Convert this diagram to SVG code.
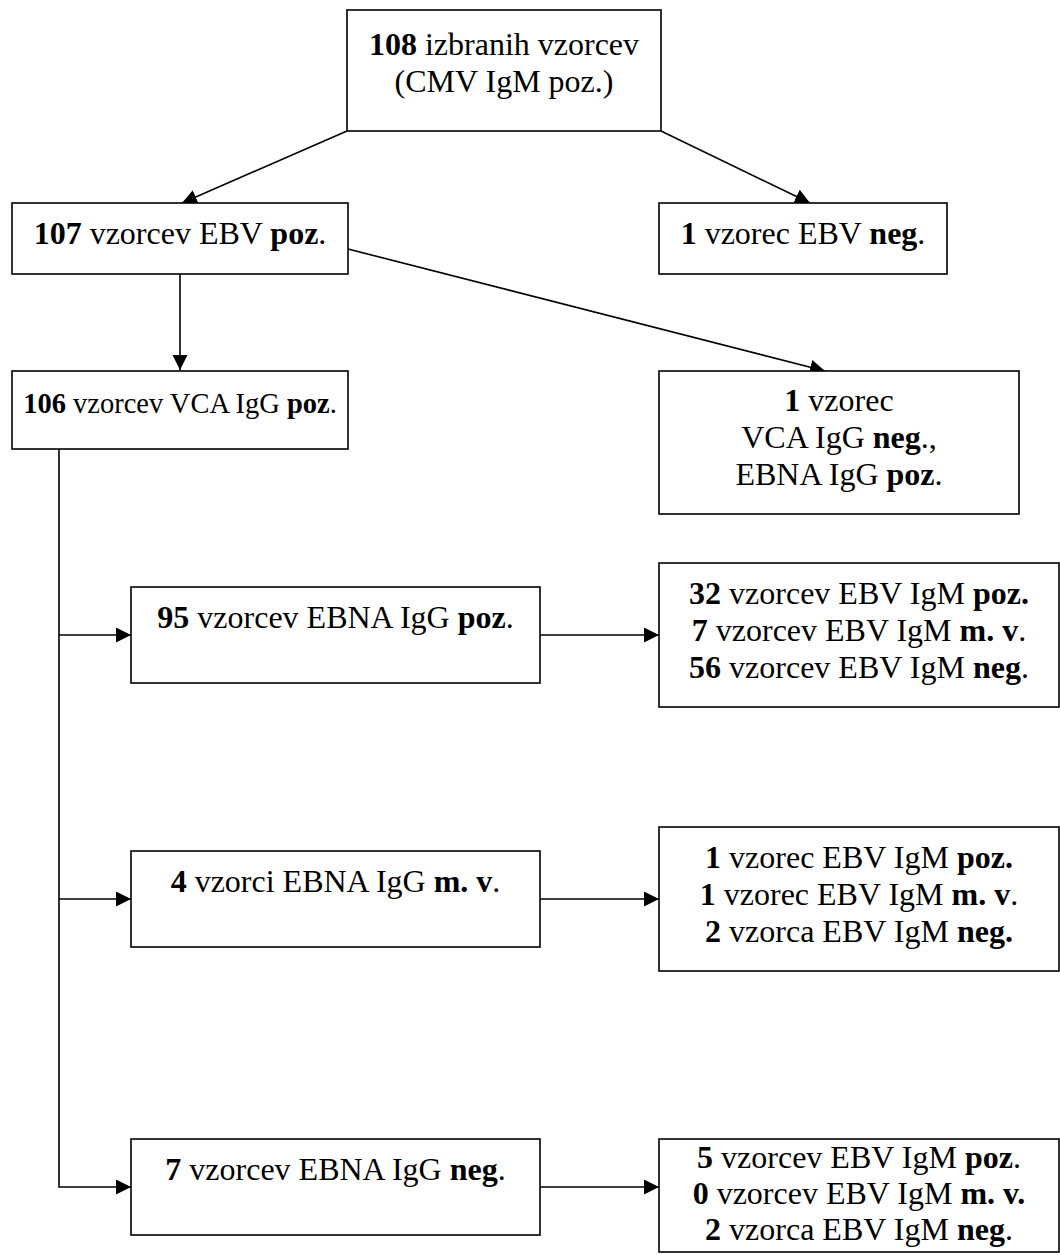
<svg xmlns="http://www.w3.org/2000/svg" width="1060" height="1255" viewBox="0 0 1060 1255">
  <style>
    .box { fill: #ffffff; stroke: #000000; stroke-width: 1.6; }
    .lbl { font-family: "Liberation Serif", "Times New Roman", serif; font-size: 32px; fill: #000000; text-anchor: middle; }
    .sm { font-size: 28.5px; }
    .b { font-weight: bold; }
    .conn { fill: none; stroke: #000000; stroke-width: 1.6; }
  </style>
  <defs>
    <marker id="arrow" markerUnits="userSpaceOnUse" markerWidth="16" markerHeight="16" refX="15" refY="7.5" orient="auto">
      <path d="M0,0 L15,7.5 L0,15 Z" fill="#000000"/>
    </marker>
  </defs>
  <rect width="1060" height="1255" fill="#ffffff"/>

  <!-- connectors -->
  <g id="connectors">
    <line class="conn" x1="347" y1="131" x2="182" y2="203" marker-end="url(#arrow)"/>
    <line class="conn" x1="661" y1="131" x2="810" y2="203" marker-end="url(#arrow)"/>
    <line class="conn" x1="180" y1="274" x2="180" y2="370" marker-end="url(#arrow)"/>
    <line class="conn" x1="348" y1="249" x2="825" y2="371" marker-end="url(#arrow)"/>
    <polyline class="conn" points="59,449 59,1187 131,1187" marker-end="url(#arrow)"/>
    <line class="conn" x1="59" y1="635" x2="131" y2="635" marker-end="url(#arrow)"/>
    <line class="conn" x1="59" y1="899" x2="131" y2="899" marker-end="url(#arrow)"/>
    <line class="conn" x1="540" y1="635" x2="659" y2="635" marker-end="url(#arrow)"/>
    <line class="conn" x1="540" y1="899" x2="659" y2="899" marker-end="url(#arrow)"/>
    <line class="conn" x1="540" y1="1187" x2="659" y2="1187" marker-end="url(#arrow)"/>
  </g>

  <!-- selected samples -->
  <g id="node-selected">
    <rect class="box" x="347" y="10" width="314" height="121"/>
    <text class="lbl" x="504" y="55"><tspan class="b">108</tspan> izbranih vzorcev</text>
    <text class="lbl" x="504" y="92">(CMV IgM poz.)</text>
  </g>

  <g id="node-ebv-pos">
    <rect class="box" x="12" y="203" width="336" height="71"/>
    <text class="lbl" x="180" y="244"><tspan class="b">107</tspan> vzorcev EBV <tspan class="b">poz</tspan>.</text>
  </g>

  <g id="node-ebv-neg">
    <rect class="box" x="659" y="203" width="288" height="71"/>
    <text class="lbl" x="803" y="244"><tspan class="b">1</tspan> vzorec EBV <tspan class="b">neg</tspan>.</text>
  </g>

  <g id="node-vca-neg">
    <rect class="box" x="659" y="371" width="360" height="143"/>
    <text class="lbl" x="839" y="411"><tspan class="b">1</tspan> vzorec</text>
    <text class="lbl" x="839" y="448">VCA IgG <tspan class="b">neg</tspan>.,</text>
    <text class="lbl" x="839" y="485">EBNA IgG <tspan class="b">poz</tspan>.</text>
  </g>

  <g id="node-vca-pos">
    <rect class="box" x="12" y="371" width="336" height="78"/>
    <text class="lbl sm" x="180" y="413"><tspan class="b">106</tspan> vzorcev VCA IgG <tspan class="b">poz</tspan>.</text>
  </g>

  <g id="node-ebna-pos">
    <rect class="box" x="131" y="587" width="409" height="96"/>
    <text class="lbl" x="335.5" y="628"><tspan class="b">95</tspan> vzorcev EBNA IgG <tspan class="b">poz</tspan>.</text>
  </g>

  <g id="node-ebna-pos-igm">
    <rect class="box" x="659" y="563" width="400" height="144"/>
    <text class="lbl" x="859" y="604"><tspan class="b">32</tspan> vzorcev EBV IgM <tspan class="b">poz.</tspan></text>
    <text class="lbl" x="859" y="641"><tspan class="b">7</tspan> vzorcev EBV IgM <tspan class="b">m. v</tspan>.</text>
    <text class="lbl" x="859" y="678"><tspan class="b">56</tspan> vzorcev EBV IgM <tspan class="b">neg</tspan>.</text>
  </g>

  <g id="node-ebna-mv">
    <rect class="box" x="131" y="851" width="409" height="96"/>
    <text class="lbl" x="335.5" y="892"><tspan class="b">4</tspan> vzorci EBNA IgG <tspan class="b">m. v</tspan>.</text>
  </g>

  <g id="node-ebna-mv-igm">
    <rect class="box" x="659" y="827" width="400" height="144"/>
    <text class="lbl" x="859" y="868"><tspan class="b">1</tspan> vzorec EBV IgM <tspan class="b">poz.</tspan></text>
    <text class="lbl" x="859" y="905"><tspan class="b">1</tspan> vzorec EBV IgM <tspan class="b">m. v</tspan>.</text>
    <text class="lbl" x="859" y="942"><tspan class="b">2</tspan> vzorca EBV IgM <tspan class="b">neg.</tspan></text>
  </g>

  <g id="node-ebna-neg">
    <rect class="box" x="131" y="1139" width="409" height="96"/>
    <text class="lbl" x="335.5" y="1180"><tspan class="b">7</tspan> vzorcev EBNA IgG <tspan class="b">neg</tspan>.</text>
  </g>

  <g id="node-ebna-neg-igm">
    <rect class="box" x="659" y="1139" width="400" height="113"/>
    <text class="lbl" x="859" y="1168"><tspan class="b">5</tspan> vzorcev EBV IgM <tspan class="b">poz</tspan>.</text>
    <text class="lbl" x="859" y="1204"><tspan class="b">0</tspan> vzorcev EBV IgM <tspan class="b">m. v.</tspan></text>
    <text class="lbl" x="859" y="1240"><tspan class="b">2</tspan> vzorca EBV IgM <tspan class="b">neg</tspan>.</text>
  </g>
</svg>
